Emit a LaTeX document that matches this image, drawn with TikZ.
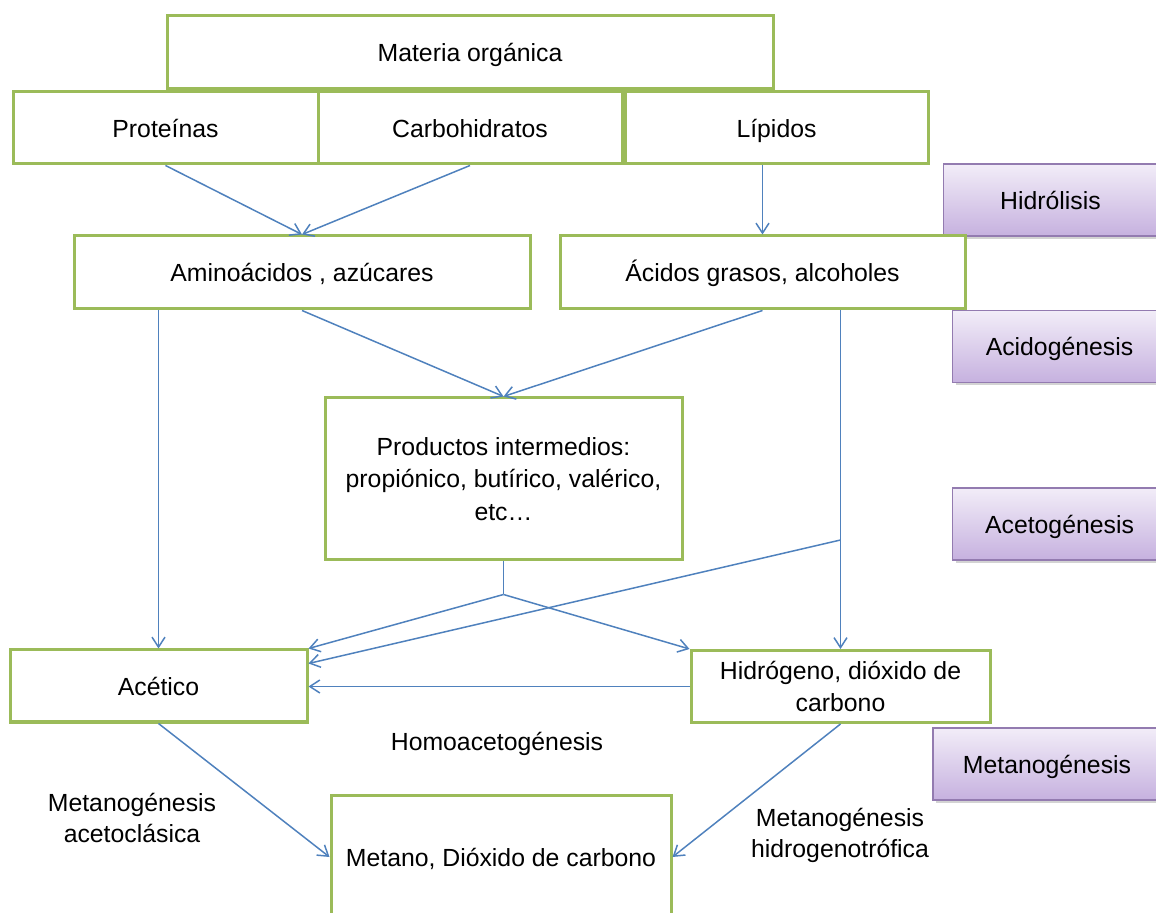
\documentclass[tikz,border=0pt]{standalone}
\usepackage{fontspec}
\setmainfont{Liberation Sans}
\usetikzlibrary{arrows.meta,positioning,calc,shadows}
\definecolor{Leaf}{HTML}{9BBB59}
\definecolor{Steel}{HTML}{4F81BD}
\definecolor{Lilac}{HTML}{8064A2}
\definecolor{LilacTop}{HTML}{F2EDF8}
\definecolor{LilacBot}{HTML}{C6B1DF}

\begin{document}
\begin{tikzpicture}[x=0.5pt,y=-0.5pt,
    b/.style={draw=Leaf,line width=1.5pt,fill=white,align=center,inner sep=0pt,font=\fontsize{12.4}{16.25}\selectfont},
    s/.style={text height=10pt,text depth=0.5pt},
    f/.style={draw=Lilac!85,line width=0.6pt,top color=LilacTop,bottom color=LilacBot,minimum width=107pt,minimum height=36pt,inner sep=0pt,font=\fontsize{12.4}{15}\selectfont,
      drop shadow={shadow xshift=1.5pt,shadow yshift=-1.5pt,opacity=0.35}},
    t/.style={align=center,font=\fontsize{12.4}{15.5}\selectfont},
    a/.style={-{Straight Barb[length=5pt,width=6.5pt]},line width=0.75pt,draw=Steel}]
    \useasboundingbox (0,0) rectangle (1156,913);
    % stages
    \node[f,s] (hy) at (1050.5,200) {Hidrólisis};
    \node[f,s] (ag) at (1059.5,346.5) {Acidogénesis};
    \node[f,s] (at) at (1059.5,524) {Acetogénesis};
    \node[f,s,minimum width=114pt] (mg) at (1047,764) {Metanogénesis};
    % boxes
    \node[b,s,minimum width=303pt,minimum height=36.5pt] (mo) at (470,52.5) {Materia orgánica};
    \node[b,s,minimum width=152.5pt,minimum height=36pt] (pr) at (165.5,128) {Proteínas};
    \node[b,s,minimum width=152pt,minimum height=36pt,right=-1.5pt of pr] (ca) {Carbohidratos};
    \node[b,s,minimum width=151.5pt,minimum height=36pt,right=0pt of ca] (li) {Lípidos};
    \node[b,s,minimum width=228pt,minimum height=36.5pt] (am) at (302,272.5) {Aminoácidos , azúcares};
    \node[b,s,minimum width=202.5pt,minimum height=36.5pt] (ac) at (762.5,272.5) {Ácidos grasos, alcoholes};
    \node[b,minimum width=178.5pt,minimum height=81pt] (pi) at (503.5,479) {Productos intermedios:\\propiónico, butírico, valérico,\\etc…};
    \node[b,s,minimum width=148.5pt,minimum height=36pt] (ace) at (158.5,686) {Acético};
    \node[b,minimum width=149.5pt,minimum height=36pt] (hi) at (840.5,686.5) {Hidrógeno, dióxido de\\carbono};
    \node[b,s,minimum width=170pt,minimum height=62pt] (me) at (501,857) {Metano, Dióxido de carbono};
    % labels
    \node[t,s] (ha) at (497,741) {Homoacetogénesis};
    \node[t] (ma) at (132,818) {Metanogénesis\\acetoclásica};
    \node[t] (mh) at (840,835) {Metanogénesis\\hidrogenotrófica};
    % arrows
    \draw[a] (pr.south) -- (am.north);
    \draw[a] (ca.south) -- (am.north);
    \draw[a] (ac.north |- li.south) -- (ac.north);
    \draw[a] (am.south -| ace.north) -- (ace.north);
    \draw[a] (am.south) -- (pi.north);
    \draw[a] (ac.south) -- (pi.north);
    \draw[a] (ac.south -| hi.north) -- (hi.north);
    \coordinate (br) at (hi.north |- 0,540);
    \draw[a] (br) -- ($(ace.north east)!0.2!(ace.south east)$);
    \draw[Steel,line width=0.75pt] (pi.south) -- ++(0,33) coordinate (sp);
    \draw[a] (sp) -- (ace.north east);
    \draw[a] (sp) -- (hi.north west);
    \draw[a] (hi.west) -- (hi.west -| ace.east);
    \draw[a] (ace.south) -- (me.west);
    \draw[a] (hi.south) -- (me.east);
  \end{tikzpicture}
\end{document}
